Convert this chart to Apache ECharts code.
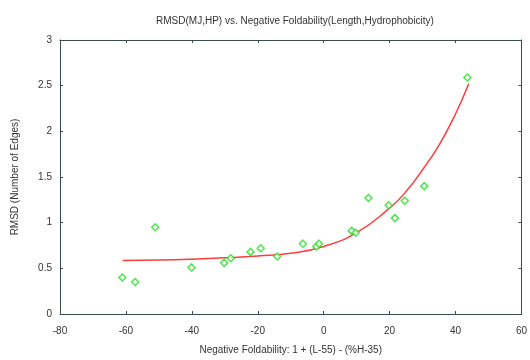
<!DOCTYPE html>
<html>
<head>
<meta charset="utf-8">
<script src="https://cdn.jsdelivr.net/npm/echarts@6/dist/echarts.min.js"></script>
<style>
  html, body { margin: 0; padding: 0; background: #fff; }
  #chart { width: 530px; height: 360px; }
</style>
</head>
<body>
<div id="chart"></div>
<script>
// observed points (negative foldability, RMSD)
const foldX = [-61.1, -57.2, -51.1, -40.1, -30.2, -28.2, -22.2, -19.1, -14.1, -6.3, -2.2, -1.4, 8.5, 9.7, 13.6, 19.7, 21.6, 24.6, 30.5, 43.6];
const rmsdY = [0.40, 0.35, 0.95, 0.51, 0.56, 0.61, 0.68, 0.72, 0.63, 0.77, 0.74, 0.77, 0.91, 0.89, 1.27, 1.19, 1.05, 1.24, 1.40, 2.59];

// fitted curve
const fitX = [-61, -50, -40, -30, -20, -10, 0, 10, 20, 25, 30, 35, 40, 44];
const fitY = [0.585, 0.59, 0.6, 0.615, 0.635, 0.665, 0.74, 0.89, 1.16, 1.34, 1.58, 1.85, 2.19, 2.52];

const axisColor = '#3a4d4d';
const textColor = '#333';
const font = 'Liberation Sans, Arial, sans-serif';

const chart = echarts.init(document.getElementById('chart'));

const tickOnly = {
  axisLine: { show: true, onZero: false, lineStyle: { color: axisColor, width: 1 } },
  axisTick: { show: true, inside: true, length: 3, lineStyle: { color: axisColor } },
  axisLabel: { show: false },
  splitLine: { show: false }
};

chart.setOption({
  animation: false,
  backgroundColor: '#fff',
  title: {
    text: 'RMSD(MJ,HP) vs. Negative Foldability(Length,Hydrophobicity)',
    left: 290,
    textAlign: 'center',
    top: 11,
    textStyle: { fontSize: 10, fontWeight: 'normal', color: textColor, fontFamily: font }
  },
  grid: { left: 60, right: 2, top: 40, bottom: 44 },
  xAxis: [
    {
      type: 'value', min: -80, max: 60, interval: 20,
      name: 'Negative Foldability: 1 + (L-55) - (%H-35)',
      nameLocation: 'middle', nameGap: 31,
      nameTextStyle: { fontSize: 10, color: textColor, fontFamily: font },
      axisLine: { show: true, onZero: false, lineStyle: { color: axisColor, width: 1 } },
      axisTick: { show: true, inside: true, length: 3, lineStyle: { color: axisColor } },
      axisLabel: { fontSize: 10, color: textColor, margin: 12, fontFamily: font },
      splitLine: { show: false }
    },
    Object.assign({ type: 'value', position: 'top', min: -80, max: 60, interval: 20 }, tickOnly)
  ],
  yAxis: [
    {
      type: 'value', min: 0, max: 3, interval: 0.5,
      name: 'RMSD (Number of Edges)',
      nameLocation: 'middle', nameGap: 40,
      nameTextStyle: { fontSize: 10, color: textColor, fontFamily: font },
      axisLine: { show: true, onZero: false, lineStyle: { color: axisColor, width: 1 } },
      axisTick: { show: true, inside: true, length: 3, lineStyle: { color: axisColor } },
      axisLabel: { fontSize: 10, color: textColor, margin: 8, fontFamily: font },
      splitLine: { show: false }
    },
    Object.assign({ type: 'value', position: 'right', min: 0, max: 3, interval: 0.5 }, tickOnly)
  ],
  series: [
    {
      name: 'fit',
      type: 'line',
      smooth: true,
      showSymbol: false,
      lineStyle: { color: '#ff3b3b', width: 1.5 },
      data: fitX.map((x, i) => [x, fitY[i]]),
      z: 2
    },
    {
      name: 'data',
      type: 'scatter',
      symbol: 'diamond',
      symbolSize: 7,
      itemStyle: { color: '#ffffff', borderColor: '#22e022', borderWidth: 1.5 },
      data: foldX.map((x, i) => [x, rmsdY[i]]),
      z: 3
    }
  ]
});
</script>
</body>
</html>
